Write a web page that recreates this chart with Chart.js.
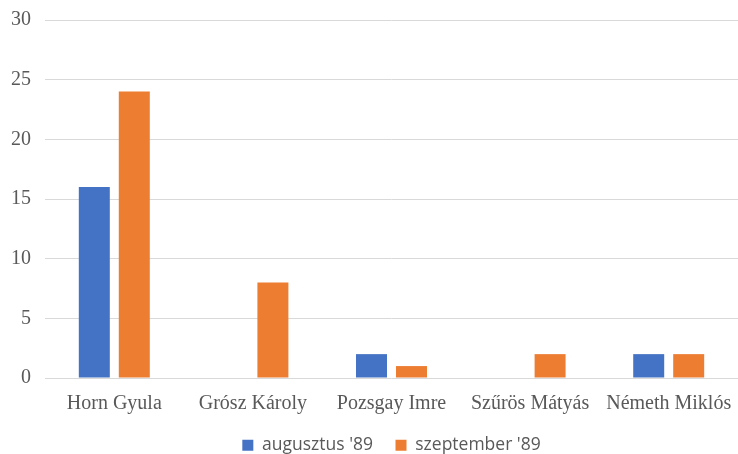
<!DOCTYPE html>
<html>
<head>
<meta charset="utf-8">
<script src="https://cdn.jsdelivr.net/npm/chart.js@4/dist/chart.umd.min.js"></script>
<style>
    html, body { margin: 0; padding: 0; background: #fff; }
    #wrap { width: 738px; height: 454px; }
</style>
</head>
<body>
<div id="wrap"><canvas id="barChart"></canvas></div>
<script>
// Data
const categories = ['Horn Gyula', 'Grósz Károly', 'Pozsgay Imre', 'Szűrös Mátyás', 'Németh Miklós'];
const augustValues = [16, 0, 2, 0, 2];
const septemberValues = [24, 8, 1, 2, 2];
const seriesNames = ["augusztus '89", "szeptember '89"];

const ctx = document.getElementById('barChart').getContext('2d');
const barChart = new Chart(ctx, {
    type: 'bar',
    data: {
        labels: categories,
        datasets: [{
            label: seriesNames[0],
            data: augustValues,
            backgroundColor: '#4472c4'
        }, {
            label: seriesNames[1],
            data: septemberValues,
            backgroundColor: '#ed7d31'
        }]
    },
    options: {
        responsive: true,
        maintainAspectRatio: false,
        animation: false,
        categoryPercentage: 0.577,
        barPercentage: 0.775,
        layout: {
            padding: { left: 8, right: 0, top: 20, bottom: -10 }
        },
        plugins: {
            tooltip: { enabled: false },
            legend: {
                position: 'bottom',
                fullSize: false,
                labels: {
                    color: '#595959',
                    boxWidth: 11,
                    boxHeight: 11,
                    padding: 22.5,
                    font: { family: 'Open Sans', size: 17.5 }
                }
            }
        },
        scales: {
            y: {
                min: 0,
                max: 30,
                afterFit: (scale) => {
                    scale.width = 37;
                    scale.paddingTop = 0;
                    scale.paddingBottom = 0;
                },
                ticks: {
                    stepSize: 5,
                    color: '#595959',
                    padding: 14,
                    font: { family: 'Liberation Serif', size: 20 }
                },
                grid: {
                    color: '#d9d9d9',
                    drawTicks: false
                },
                border: { display: false }
            },
            x: {
                afterFit: (scale) => {
                    scale.height = 36;
                    scale.paddingLeft = 0;
                    scale.paddingRight = 0;
                },
                ticks: {
                    color: '#595959',
                    padding: 14,
                    font: { family: 'Liberation Serif', size: 20 }
                },
                grid: { display: false, drawTicks: false },
                border: { display: false }
            }
        }
    }
});
</script>
</body>
</html>
